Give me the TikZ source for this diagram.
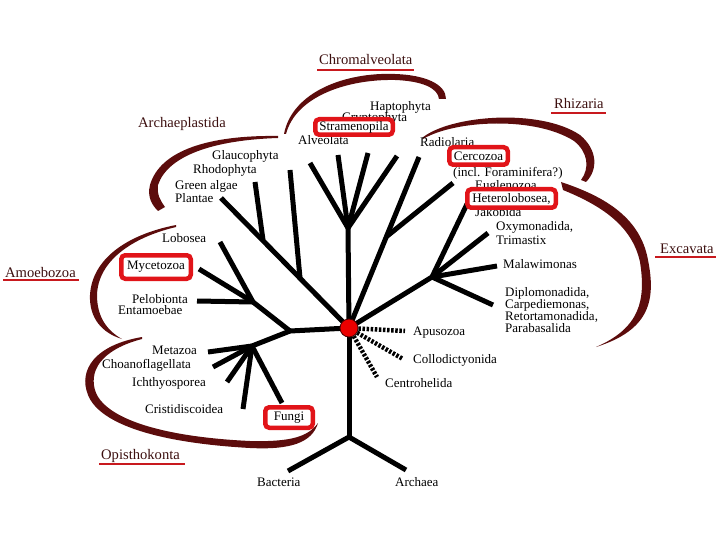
\documentclass[tikz,border=0pt]{standalone}
\usepackage{fontspec}
\setmainfont{Liberation Serif}
\definecolor{maroon}{RGB}{92,12,12}
\definecolor{boxred}{RGB}{225,20,25}
\definecolor{ulred}{RGB}{200,25,30}
\definecolor{dotred}{RGB}{235,0,0}
\definecolor{grpcol}{RGB}{60,15,15}
\begin{document}
\begin{tikzpicture}[x=1pt,y=-1pt,
  lbl/.style={anchor=base west, inner sep=0pt, font=\fontsize{13}{14}\selectfont},
  grp/.style={anchor=base west, inner sep=0pt, font=\fontsize{14.6}{16}\selectfont, text=grpcol},
  redbox/.style={draw=boxred, line width=4.5pt, fill=white, rounded corners=4pt, inner sep=0pt, font=\fontsize{13}{14}\selectfont},
  branch/.style={line width=5pt},
  dotbranch/.style={line width=4.5pt, dash pattern=on 2.5pt off 1.6pt},
  uline/.style={draw=ulred, line width=2.5pt},
  arcfill/.style={fill=maroon}
]
\useasboundingbox (0,0) rectangle (720,540);

% ---------- group brackets ----------
% Chromalveolata
\path[arcfill] (284,134) .. controls (292,92) and (345,72) .. (395,74) .. controls (425,75) and (446,84) .. (446,99)
  -- (439,99) .. controls (438,88) and (422,81) .. (395,80) .. controls (348,79) and (296,96) .. (286,134) -- cycle;
% Rhizaria
\path[arcfill] (422,138) .. controls (450,115) and (540,108) .. (580,135) .. controls (598,150) and (598,170) .. (586,182)
  -- (581,180) .. controls (590,168) and (588,152) .. (574,141) .. controls (535,116) and (455,120) .. (423,139) -- cycle;
% Excavata
\path[arcfill] (561,182) .. controls (600,195) and (640,215) .. (648,260) .. controls (656,300) and (650,330) .. (596,347)
  .. controls (640,328) and (646,300) .. (640,262) .. controls (632,225) and (600,205) .. (563,190) -- cycle;
% Archaeplastida
\path[arcfill] (278,136) .. controls (210,135) and (160,150) .. (150,185) .. controls (147,197) and (152,205) .. (158,211)
  -- (165,207) .. controls (160,200) and (157,195) .. (158,185) .. controls (168,155) and (215,140) .. (278,138) -- cycle;
% Amoebozoa
\path[arcfill] (176,225) .. controls (125,235) and (92,260) .. (90,295) .. controls (89,318) and (102,333) .. (122,339)
  .. controls (106,330) and (97,316) .. (97,295) .. controls (98,262) and (130,238) .. (176,227) -- cycle;
% Opisthokonta
\path[arcfill] (142,337) .. controls (95,345) and (78,370) .. (88,395) .. controls (100,425) and (160,443) .. (250,448)
  .. controls (290,450) and (312,443) .. (318,423)
  .. controls (308,437) and (290,442) .. (250,441) .. controls (165,437) and (108,420) .. (96,393)
  .. controls (88,372) and (100,350) .. (142,339) -- cycle;

% ---------- tree coordinates ----------
\coordinate (C) at (349,328);
\coordinate (Jdown) at (349,437);
\coordinate (tBac) at (288,471);
\coordinate (tArc) at (406,470);
\coordinate (Jup) at (348,228);
\coordinate (tAlv) at (310,163);
\coordinate (tStr) at (338,155);
\coordinate (tCry) at (368,153);
\coordinate (tHap) at (397,156);
\coordinate (tRad) at (419,157);
\coordinate (Jrh) at (386,237);
\coordinate (tCer) at (453,183);
\coordinate (Jex) at (432,277);
\coordinate (tHet) at (467,204);
\coordinate (tOxy) at (488,233);
\coordinate (tMal) at (497,266);
\coordinate (tDip) at (493,305);
\coordinate (tPla) at (221,198);
\coordinate (Jrho) at (263,240);
\coordinate (tRho) at (255,182);
\coordinate (Jgla) at (300,278);
\coordinate (tGla) at (290,170);
\coordinate (Jao) at (290,331);
\coordinate (Jam) at (253,302);
\coordinate (tLob) at (220,242);
\coordinate (tMyc) at (199,269);
\coordinate (tPel) at (197,301);
\coordinate (Jop) at (252,346);
\coordinate (tMet) at (208,352);
\coordinate (tCho) at (213,367);
\coordinate (tIch) at (227,382);
\coordinate (tCri) at (243,409);
\coordinate (tFun) at (282,403);

% ---------- solid branches ----------
\draw[branch] (C) -- (Jdown);
\draw[branch] (tBac) -- (Jdown) -- (tArc);
\draw[branch] (C) -- (Jup);
\draw[branch] (Jup) -- (tAlv);
\draw[branch] (Jup) -- (tStr);
\draw[branch] (Jup) -- (tCry);
\draw[branch] (Jup) -- (tHap);
\draw[branch] (C) -- (tRad);
\draw[branch] (Jrh) -- (tCer);
\draw[branch] (C) -- (Jex);
\draw[branch] (Jex) -- (tHet);
\draw[branch] (Jex) -- (tOxy);
\draw[branch] (Jex) -- (tMal);
\draw[branch] (Jex) -- (tDip);
\draw[branch] (C) -- (tPla);
\draw[branch] (Jrho) -- (tRho);
\draw[branch] (Jgla) -- (tGla);
\draw[branch] (C) -- (Jao);
\draw[branch] (Jao) -- (Jam);
\draw[branch] (Jam) -- (tLob);
\draw[branch] (Jam) -- (tMyc);
\draw[branch] (Jam) -- (tPel);
\draw[branch] (Jao) -- (Jop);
\draw[branch] (Jop) -- (tMet);
\draw[branch] (Jop) -- (tCho);
\draw[branch] (Jop) -- (tIch);
\draw[branch] (Jop) -- (tCri);
\draw[branch] (Jop) -- (tFun);

% ---------- root dot and dotted branches ----------
\coordinate (dApu) at (405,331);
\coordinate (dCol) at (403,359);
\coordinate (dCen) at (377,377);
\node[circle, fill=dotred, draw=black!70!red, line width=0.8pt, minimum size=18pt, inner sep=0pt] (root) at (C) {};
\draw[dotbranch] (root) -- (dApu);
\draw[dotbranch] (root) -- (dCol);
\draw[dotbranch] (root) -- (dCen);

% ---------- group labels ----------
\node[grp] (chrom) at (319,65) {Chromalveolata};
\node[grp] (rhiz) at (554,109) {Rhizaria};
\node[grp] (exca) at (660,254) {Excavata};
\node[grp] (arch) at (138,128) {Archaeplastida};
\node[grp] (amoe) at (5,277) {Amoebozoa};
\node[grp] (opis) at (101,459) {Opisthokonta};
\draw[uline] ([shift={(-2,5)}]chrom.base west) -- ([shift={(1,5)}]chrom.base east);
\draw[uline] ([shift={(-3,4)}]rhiz.base west) -- ([shift={(2,4)}]rhiz.base east);
\draw[uline] ([shift={(-5,3)}]exca.base west) -- ([shift={(2,3)}]exca.base east);
\draw[uline] ([shift={(-2,3)}]amoe.base west) -- ([shift={(3,3)}]amoe.base east);
\draw[uline] ([shift={(-2,5)}]opis.base west) -- ([shift={(5,5)}]opis.base east);

% ---------- taxon labels ----------
\node[lbl] (hap) at (370,111) {Haptophyta};
\node[lbl] (cry) at (342,122) {Cryptophyta};
\node[lbl] (alv) at (298,145) {Alveolata};
\node[lbl] (rad) at (420,147) {Radiolaria};
\node[lbl] (inc) at (453,177) {(incl. Foraminifera?)};
\node[lbl] (eug) at (475,190) {Euglenozoa,};
\node[lbl] (jak) at (475,216) {Jakobida};
\node[lbl] (oxy) at (496,230) {Oxymonadida,};
\node[lbl] (tri) at (496,244) {Trimastix};
\node[lbl] (mal) at (503,268) {Malawimonas};
\node[lbl] (dip) at (505,296) {Diplomonadida,};
\node[lbl] (car) at (505,308) {Carpediemonas,};
\node[lbl] (ret) at (505,320) {Retortamonadida,};
\node[lbl] (par) at (505,332) {Parabasalida};
\node[lbl] (apu) at (413,335) {Apusozoa};
\node[lbl] (col) at (413,363) {Collodictyonida};
\node[lbl] (cen) at (385,387) {Centrohelida};
\node[lbl] (gla) at (212,160) {Glaucophyta};
\node[lbl] (rho) at (193,174) {Rhodophyta};
\node[lbl] (gre) at (175,190) {Green algae};
\node[lbl] (pla) at (175,203) {Plantae};
\node[lbl] (lob) at (162,242) {Lobosea};
\node[lbl] (pel) at (132,303) {Pelobionta};
\node[lbl] (ent) at (118,314) {Entamoebae};
\node[lbl] (met) at (152,354) {Metazoa};
\node[lbl] (cho) at (102,368) {Choanoflagellata};
\node[lbl] (ich) at (132,386) {Ichthyosporea};
\node[lbl] (cri) at (145,413) {Cristidiscoidea};
\node[lbl] (bac) at (257,486) {Bacteria};
\node[lbl] (arc) at (395,486) {Archaea};

% ---------- highlighted (boxed) labels ----------
\node[redbox, minimum width=77.5pt, minimum height=15.5pt] (stra) at (354,127) {Stramenopila};
\node[redbox, minimum width=58.5pt, minimum height=17.5pt] (cerc) at (478.5,156) {Cercozoa};
\node[redbox, minimum width=88.5pt, minimum height=18.5pt] (hete) at (511.5,198.5) {Heterolobosea,};
\node[redbox, minimum width=69.5pt, minimum height=23.5pt] (myce) at (156,267) {Mycetozoa};
\node[redbox, minimum width=47.5pt, minimum height=20.5pt] (fung) at (289,417.5) {Fungi};
\end{tikzpicture}
\end{document}
